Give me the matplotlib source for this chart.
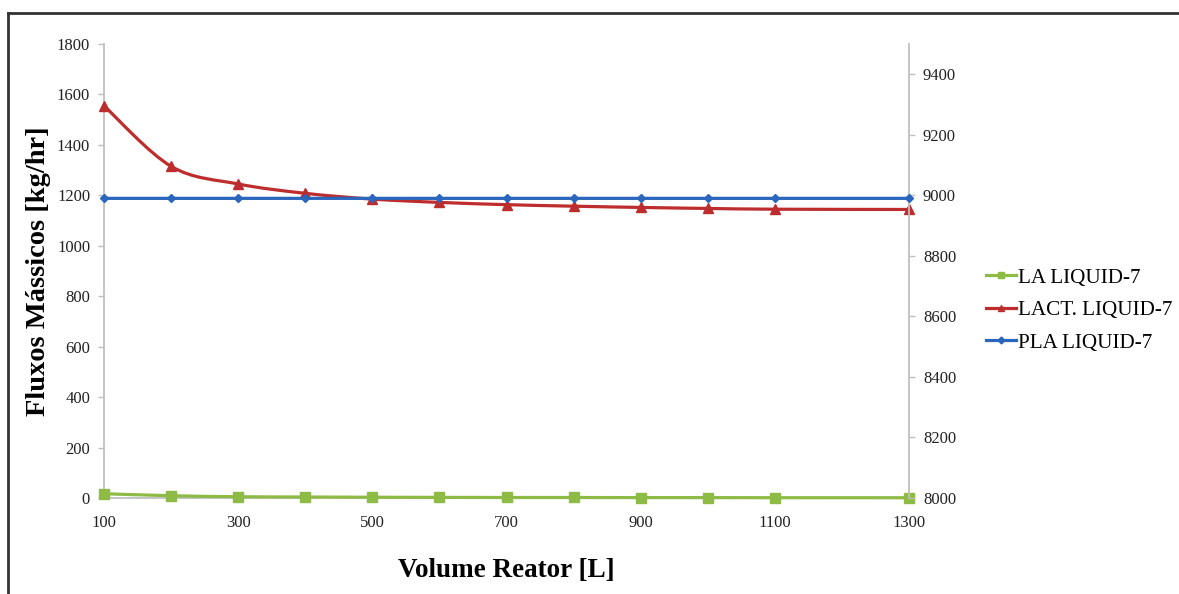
import matplotlib.pyplot as plt
import numpy as np
from matplotlib.lines import Line2D
from matplotlib.patches import PathPatch
from matplotlib.path import Path

plt.rcParams["font.family"] = ["Liberation Serif", "DejaVu Serif"]

# reactor volume [L] (no point at 1200)
volume = [100, 200, 300, 400, 500, 600, 700, 800, 900, 1000, 1100, 1300]
la_liquid = [17, 9, 5, 4, 3, 2.5, 2, 2, 1.5, 1.5, 1.2, 1.0]
lact_liquid = [1555, 1315, 1245, 1208, 1185, 1172, 1163, 1157, 1152, 1148, 1145, 1144]
pla_liquid = [8990, 8990, 8990, 8990, 8990, 8990, 8990, 8990, 8990, 8990, 8990, 8990]

series_labels = ["LA LIQUID-7", "LACT. LIQUID-7", "PLA LIQUID-7"]
left_ticks = list(range(0, 1801, 200))
right_ticks = list(range(8000, 9401, 200))
x_ticks = [100, 300, 500, 700, 900, 1100, 1300]

GREEN = "#8DBB45"
RED = "#BE2D2D"
BLUE = "#2A66BC"
AXIS_GRAY = "#BFBFBF"


def smooth_path(x, y, k=1 / 6):
    # Excel-like smoothed line: Catmull-Rom segments as cubic Beziers
    x = np.asarray(x, float)
    y = np.asarray(y, float)
    n = len(x)
    verts = [(x[0], y[0])]
    codes = [Path.MOVETO]
    for i in range(n - 1):
        i0 = max(i - 1, 0)
        i3 = min(i + 2, n - 1)
        c1 = (x[i] + (x[i + 1] - x[i0]) * k, y[i] + (y[i + 1] - y[i0]) * k)
        c2 = (x[i + 1] - (x[i3] - x[i]) * k, y[i + 1] - (y[i3] - y[i]) * k)
        verts += [c1, c2, (x[i + 1], y[i + 1])]
        codes += [Path.CURVE4] * 3
    return Path(verts, codes)


def draw_series(ax, x, y, color, marker, ms):
    ax.add_patch(PathPatch(smooth_path(x, y), facecolor="none", edgecolor=color,
                           lw=2.3, capstyle="round", joinstyle="round",
                           zorder=3, clip_on=False))
    ax.plot(x, y, ls="none", marker=marker, ms=ms, color=color, zorder=4,
            clip_on=False)


fig = plt.figure(figsize=(11.79, 5.94), dpi=100)
ax = fig.add_axes([104 / 1179, 1 - 498 / 594, (909 - 104) / 1179, (498 - 44) / 594])
ax2 = ax.twinx()

draw_series(ax, volume, la_liquid, GREEN, "s", 7)
draw_series(ax, volume, lact_liquid, RED, "^", 7)
draw_series(ax2, volume, pla_liquid, BLUE, "D", 4.5)

ax.set_xlim(100, 1300)
ax.set_ylim(0, 1800)
ax2.set_ylim(8000, 9500)
ax.set_xticks(x_ticks)
ax.set_yticks(left_ticks)
ax2.set_yticks(right_ticks)

for a in (ax, ax2):
    for side in ("top", "right", "left", "bottom"):
        a.spines[side].set_visible(False)
ax.spines["left"].set_visible(True)
ax.spines["bottom"].set_visible(True)
ax2.spines["right"].set_visible(True)
for sp in (ax.spines["left"], ax.spines["bottom"], ax2.spines["right"]):
    sp.set_color(AXIS_GRAY)
    sp.set_linewidth(1.3)

ax.tick_params(axis="y", colors=AXIS_GRAY, labelcolor="#222222", labelsize=12,
               length=4, width=1, pad=6)
ax2.tick_params(axis="y", colors=AXIS_GRAY, labelcolor="#222222", labelsize=12,
                length=4, width=1, pad=6)
ax.tick_params(axis="x", length=0, labelcolor="#222222", labelsize=12, pad=12)

ax.set_xlabel("Volume Reator [L]", fontsize=19.5, fontweight="bold", labelpad=20)
ax.set_ylabel("Fluxos Mássicos [kg/hr]", fontsize=20.5, fontweight="bold", labelpad=4)

handles = [
    Line2D([], [], color=GREEN, lw=2.3, marker="s", ms=5),
    Line2D([], [], color=RED, lw=2.3, marker="^", ms=5),
    Line2D([], [], color=BLUE, lw=2.3, marker="D", ms=3.5),
]
fig.legend(handles, series_labels, loc="upper left",
           bbox_to_anchor=(986 / 1179, 1 - 268 / 594), frameon=False,
           fontsize=15.2, handlelength=1.4, handletextpad=0.1,
           labelspacing=0.6, borderpad=0, borderaxespad=0)

# outer frame (top and left edges visible in the source image)
fig.add_artist(Line2D([8 / 1179, 1.0], [1 - 13 / 594] * 2, color="#333333", lw=2))
fig.add_artist(Line2D([8 / 1179] * 2, [1 - 13 / 594, 0.0], color="#333333", lw=2))

fig.savefig("out.png", dpi=100)
plt.close(fig)
